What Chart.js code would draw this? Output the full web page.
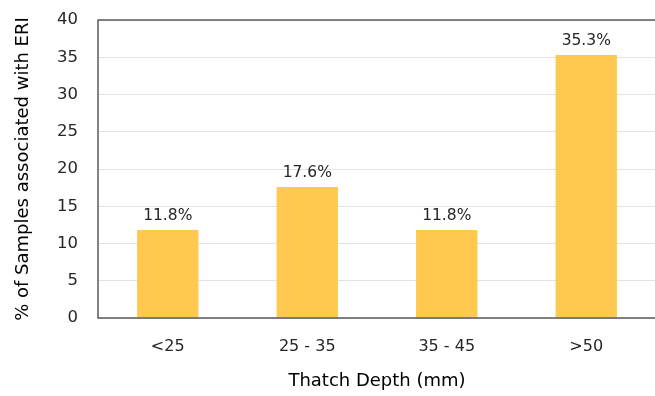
<!DOCTYPE html>
<html>
<head>
<meta charset="utf-8">
<script src="https://cdn.jsdelivr.net/npm/chart.js@4/dist/chart.umd.min.js"></script>
<style>
  html, body { margin: 0; padding: 0; background: #fff; overflow: hidden; }
  #wrap { width: 660px; height: 396px; }
</style>
</head>
<body>
<div id="wrap"><canvas id="c" width="660" height="396"></canvas></div>
<script>
const categories = ['<25', '25 - 35', '35 - 45', '>50'];
const percentValues = [11.8, 17.6, 11.8, 35.3];
const yTicks = [0, 5, 10, 15, 20, 25, 30, 35, 40];

const FONT = '"DejaVu Sans", sans-serif';

// Value labels above each bar
const valueLabels = {
  id: 'valueLabels',
  afterDatasetsDraw(chart) {
    const ctx = chart.ctx;
    const meta = chart.getDatasetMeta(0);
    ctx.save();
    ctx.font = '15.5px ' + FONT;
    ctx.fillStyle = '#262626';
    ctx.textAlign = 'center';
    ctx.textBaseline = 'bottom';
    meta.data.forEach((bar, i) => {
      ctx.fillText(percentValues[i].toFixed(1) + '%', bar.x, bar.y - 6);
    });
    ctx.restore();
  }
};

// Frame around the plot area (right edge runs past the canvas)
const plotFrame = {
  id: 'plotFrame',
  afterDraw(chart) {
    const { left, top, bottom } = chart.chartArea;
    const ctx = chart.ctx;
    ctx.save();
    ctx.strokeStyle = '#595959';
    ctx.lineWidth = 1.5;
    ctx.beginPath();
    ctx.moveTo(chart.width, top);
    ctx.lineTo(left, top);
    ctx.lineTo(left, bottom);
    ctx.lineTo(chart.width, bottom);
    ctx.stroke();
    ctx.restore();
  }
};

new Chart(document.getElementById('c'), {
  type: 'bar',
  data: {
    labels: categories,
    datasets: [{
      data: percentValues,
      backgroundColor: '#FFC94F',
      categoryPercentage: 0.88,
      barPercentage: 0.5
    }]
  },
  options: {
    responsive: false,
    animation: false,
    layout: { autoPadding: false, padding: { top: 20, right: 4, left: 0, bottom: 0 } },
    plugins: { legend: { display: false }, tooltip: { enabled: false } },
    scales: {
      x: {
        grid: { display: false },
        border: { display: false },
        ticks: { color: '#262626', font: { family: FONT, size: 16 }, padding: 11 },
        title: { display: true, text: 'Thatch Depth (mm)', color: '#000', font: { family: FONT, size: 18 }, padding: { top: 16 } },
        afterFit(s) { s.height = 78; }
      },
      y: {
        min: 0, max: 40,
        afterBuildTicks(s) { s.ticks = yTicks.map(v => ({ value: v })); },
        grid: { color: '#e2e2e2', lineWidth: 1, drawTicks: false },
        border: { display: false },
        ticks: { color: '#262626', font: { family: FONT, size: 16.5 }, padding: 20 },
        title: { display: true, text: '% of Samples associated with ERI', color: '#000', font: { family: FONT, size: 18 }, padding: { top: 13, bottom: 6 } },
        afterFit(s) { s.width = 98; s.paddingTop = 0; s.paddingBottom = 0; }
      }
    }
  },
  plugins: [valueLabels, plotFrame]
});
</script>
</body>
</html>
